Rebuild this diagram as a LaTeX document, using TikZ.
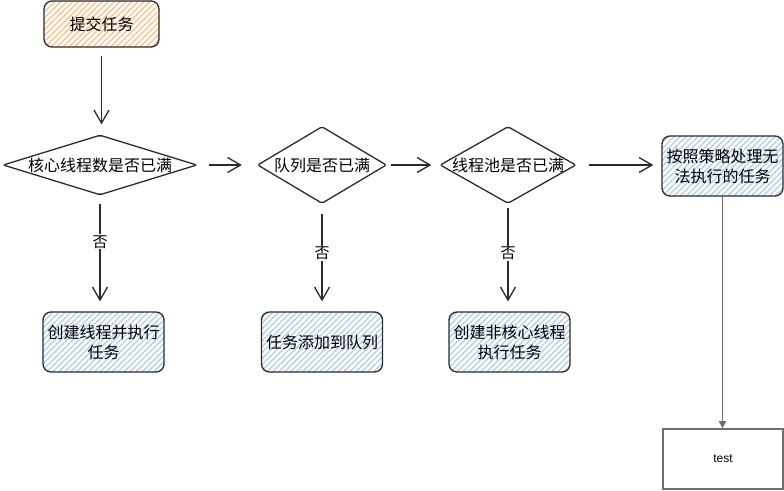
\documentclass[tikz,border=0pt]{standalone}
\usepackage{fontspec}
\setmainfont{Noto Sans CJK SC}
\newfontfamily\latinsans{Liberation Sans}
\usepackage{xcolor}
\usetikzlibrary{arrows.meta, shapes.geometric, patterns.meta}
\definecolor{hatchorange}{HTML}{FFC28A}
\definecolor{hatchblue}{HTML}{B4D0EE}
\definecolor{inkline}{HTML}{2B2B2B}
\definecolor{testline}{HTML}{6E6E6E}

\begin{document}
\begin{tikzpicture}[x=1pt, y=-1pt,
        every node/.style={font=\fontsize{16}{20}\selectfont},
        card/.style={draw=inkline, line width=1.3pt, rounded corners=8pt, align=center,
            minimum width=121pt, minimum height=60pt, inner sep=0pt,
            pattern={Lines[angle=45,distance=4.2pt,line width=1.4pt]}, pattern color=hatchblue},
        decision/.style={draw=inkline, line width=1.3pt, diamond, inner sep=0pt, rounded corners=2pt},
        flow/.style={draw=inkline, line width=1.3pt, -{Straight Barb[length=13pt,width=15pt]}},
        nolabel/.style={fill=white, inner sep=1pt, font=\fontsize{15}{15}\selectfont}]

        \fill[white] (0,0) rectangle (784,490);

        \node[card, minimum width=115pt, minimum height=46pt, pattern color=hatchorange] (S_1) at (101.5,24) {提交任务};

        \node[decision, minimum width=194pt, minimum height=60pt, label={center:核心线程数是否已满}] (D_1) at (100,165) {};
        \node[decision, minimum width=129pt, minimum height=77pt, label={center:队列是否已满}] (D_2) at (322,165) {};
        \node[decision, minimum width=136pt, minimum height=77pt, label={center:线程池是否已满}] (D_3) at (508,165) {};
        \node[card] (P_1) at (722.5,166) {按照策略处理无\\法执行的任务};

        \node[card] (B_1) at (103.5,342) {创建线程并执行\\任务};
        \node[card] (B_2) at (322,342) {任务添加到队列};
        \node[card] (B_3) at (509.5,342) {创建非核心线程\\执行任务};

        \node[draw=testline, line width=1.6pt, minimum width=120pt, minimum height=60pt,
            font=\latinsans\fontsize{12}{12}\selectfont] (T_1) at (723,459) {test};

        \draw[flow, shorten <=8pt, shorten >=10pt] (S_1.south) -- (S_1.south |- D_1.north);
        \draw[flow, shorten <=11pt, shorten >=15pt] (D_1.east) -- (D_2.west);
        \draw[flow, shorten <=4pt, shorten >=8pt] (D_2.east) -- (D_3.west);
        \draw[flow, shorten <=12pt, shorten >=8pt] (D_3.east) -- (D_3.east -| P_1.west);

        \draw[flow, shorten <=8pt, shorten >=10pt] (D_1.south) -- node[nolabel, pos=0.4] {否} (D_1.south |- B_1.north);
        \draw[flow, shorten <=10pt, shorten >=10pt] (D_2.south) -- node[nolabel, pos=0.46] {否} (B_2.north);
        \draw[flow, shorten <=4pt, shorten >=10pt] (D_3.south) -- node[nolabel, pos=0.46] {否} (D_3.south |- B_3.north);

        \draw[testline, line width=1.8pt, -{Triangle[length=7pt,width=7pt]}] (P_1.south) -- (P_1.south |- T_1.north);
    \end{tikzpicture}
\end{document}
